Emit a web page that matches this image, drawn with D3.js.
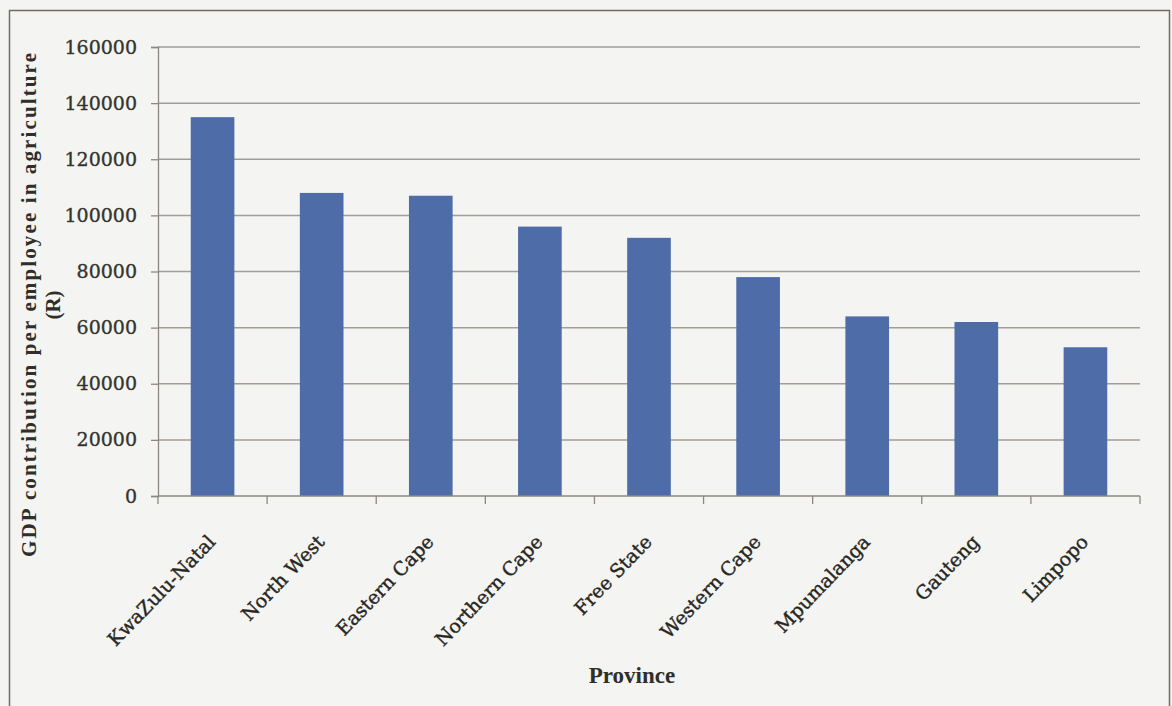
<!DOCTYPE html>
<html>
<head>
<meta charset="utf-8">
<script src="https://cdn.jsdelivr.net/npm/d3@7"></script>
<style>
  body { margin: 0; background: #f4f4f2; }
  svg { display: block; }
</style>
</head>
<body>
<div id="chart"></div>
<script>
// Province names and GDP contribution per employee (R)
const provinces = ["KwaZulu-Natal", "North West", "Eastern Cape", "Northern Cape", "Free State",
  "Western Cape", "Mpumalanga", "Gauteng", "Limpopo"];
const gdpValues = [135000, 108000, 107000, 96000, 92000, 78000, 64000, 62000, 53000];
const yTicks = [0, 20000, 40000, 60000, 80000, 100000, 120000, 140000, 160000];

const W = 1172, H = 706;
const margin = { top: 47, right: 32, bottom: 210, left: 158 };
const width = W - margin.left - margin.right;
const height = H - margin.top - margin.bottom;

const svg = d3.select("#chart")
  .append("svg")
  .attr("width", W)
  .attr("height", H);

svg.append("rect")
  .attr("x", 0).attr("y", 0)
  .attr("width", W).attr("height", H)
  .attr("fill", "#f4f4f2");

// outer frame
svg.append("rect")
  .attr("x", 9.5).attr("y", 10.5)
  .attr("width", W - 12).attr("height", H + 10)
  .attr("fill", "none")
  .attr("stroke", "#6f6c66")
  .attr("stroke-width", 1.5);

const g = svg.append("g")
  .attr("transform", `translate(${margin.left}, ${margin.top})`);

const x = d3.scaleBand()
  .domain(provinces)
  .range([0, width])
  .paddingInner(0.6)
  .paddingOuter(0.3);

const y = d3.scaleLinear()
  .domain([0, 160000])
  .range([height, 0]);

// gridlines
g.selectAll(".grid")
  .data(yTicks.filter(d => d > 0))
  .enter()
  .append("line")
  .attr("x1", 0)
  .attr("x2", width)
  .attr("y1", d => y(d))
  .attr("y2", d => y(d))
  .attr("stroke", "#a39d94")
  .attr("stroke-width", 1.5);

// y axis
const yAxis = g.append("g")
  .call(d3.axisLeft(y).tickValues(yTicks).tickSize(7).tickPadding(14).tickFormat(d3.format("d")));
yAxis.selectAll("line").attr("stroke", "#8c8881").attr("stroke-width", 1.3);
yAxis.select(".domain").attr("stroke", "#8c8881").attr("stroke-width", 1.3);
yAxis.selectAll("text")
  .style("font-family", "'DejaVu Serif', serif")
  .style("font-size", "19px")
  .attr("fill", "#34342f")
  .attr("stroke", "#34342f")
  .attr("stroke-width", 0.35);

// bars
g.selectAll(".bar")
  .data(provinces)
  .enter()
  .append("rect")
  .attr("class", "bar")
  .attr("x", d => x(d))
  .attr("y", (d, i) => y(gdpValues[i]))
  .attr("width", x.bandwidth())
  .attr("height", (d, i) => height - y(gdpValues[i]))
  .attr("fill", "#4d6ca8");

// x axis with ticks between categories
const bandStep = x.step();
const firstEdge = x(provinces[0]) - bandStep * x.paddingInner() / 2;
const xAxisG = g.append("g")
  .attr("transform", `translate(0, ${height})`);
xAxisG.append("line")
  .attr("x1", 0).attr("x2", width)
  .attr("stroke", "#8c8881").attr("stroke-width", 1.3);
xAxisG.selectAll(".xtick")
  .data(d3.range(provinces.length + 1))
  .enter()
  .append("line")
  .attr("x1", i => firstEdge + i * bandStep)
  .attr("x2", i => firstEdge + i * bandStep)
  .attr("y1", 0).attr("y2", 8)
  .attr("stroke", "#8c8881").attr("stroke-width", 1.3);

xAxisG.selectAll(".xlabel")
  .data(provinces)
  .enter()
  .append("text")
  .attr("transform", d => `translate(${x(d) + x.bandwidth() / 2 + 4}, 47) rotate(-46)`)
  .attr("text-anchor", "end")
  .style("font-family", "'DejaVu Serif', serif")
  .style("font-size", "19px")
  .attr("fill", "#262622")
  .attr("stroke", "#262622")
  .attr("stroke-width", 0.4)
  .text(d => d);

// axis titles
g.append("text")
  .attr("x", 632 - margin.left)
  .attr("y", height + 187)
  .attr("text-anchor", "middle")
  .style("font-family", "'Liberation Serif', serif")
  .style("font-weight", "bold")
  .style("font-size", "23px")
  .attr("fill", "#2e2e2a")
  .text("Province");

const yTitle = svg.append("text")
  .attr("transform", `translate(36, 305) rotate(-90)`)
  .attr("text-anchor", "middle")
  .style("font-family", "'Liberation Serif', serif")
  .style("font-weight", "bold")
  .style("font-size", "21px")
  .attr("fill", "#2e2e2a");
yTitle.append("tspan")
  .attr("x", 0).attr("dy", 0)
  .attr("textLength", 504)
  .attr("lengthAdjust", "spacing")
  .text("GDP contribution per employee in agriculture");
yTitle.append("tspan")
  .attr("x", 0).attr("dy", 24)
  .text("(R)");
</script>
</body>
</html>
